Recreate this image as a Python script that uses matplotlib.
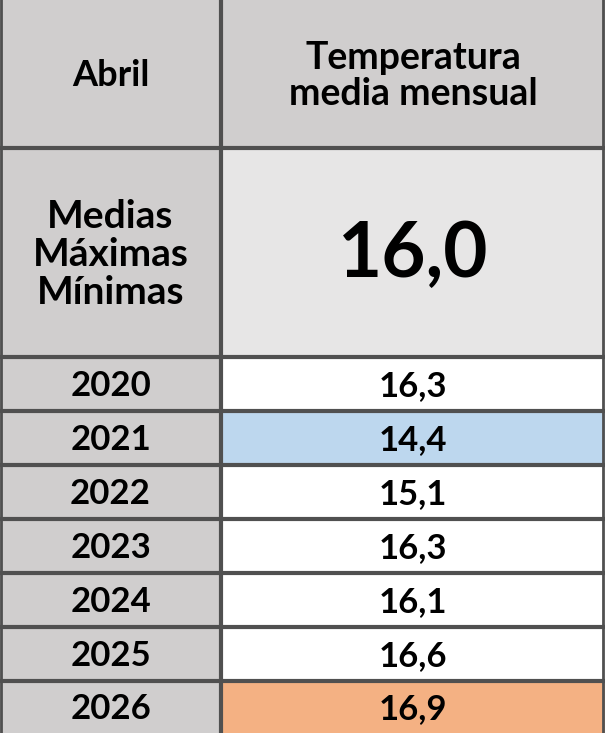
import matplotlib
matplotlib.use('Agg')
import matplotlib.pyplot as plt
from matplotlib.patches import Rectangle

# Datos
header_left = 'Abril'
header_right = 'Temperatura\nmedia mensual'
summary_label = 'Medias\nMáximas\nMínimas'
summary_value = '16,0'
years = ['2020', '2021', '2022', '2023', '2024', '2025', '2026']
temps = [16.3, 14.4, 15.1, 16.3, 16.1, 16.6, 16.9]
highlight = {'2021': '#bdd7ee', '2026': '#f4b183'}

W, H = 605, 733
col_x = [0, 221, 605]
row_y = [0, 148, 357] + [357 + 54 * (i + 1) for i in range(len(years))]
row_y[-1] = H

GREY = '#d0cece'
LIGHT = '#e7e6e6'
LINE = '#505050'
FONT = ['Lato', 'DejaVu Sans']

fig = plt.figure(figsize=(W / 100, H / 100), dpi=100)
ax = fig.add_axes([0, 0, 1, 1])
ax.set_xlim(0, W)
ax.set_ylim(H, 0)
ax.axis('off')


def cell(x0, x1, y0, y1, color, text, size):
    ax.add_patch(Rectangle((x0, y0), x1 - x0, y1 - y0, facecolor=color, edgecolor='none'))
    ax.text((x0 + x1) / 2, (y0 + y1) / 2 + 2, text, ha='center', va='center',
            fontsize=size, fontweight='bold', family=FONT, linespacing=1.1)


cell(col_x[0], col_x[1], row_y[0], row_y[1], GREY, header_left, 26)
cell(col_x[1], col_x[2], row_y[0], row_y[1], GREY, header_right, 27)
cell(col_x[0], col_x[1], row_y[1], row_y[2], GREY, summary_label, 28)
cell(col_x[1], col_x[2], row_y[1], row_y[2], LIGHT, summary_value, 55)
for i, (yr, t) in enumerate(zip(years, temps)):
    y0, y1 = row_y[i + 2], row_y[i + 3]
    cell(col_x[0], col_x[1], y0, y1, GREY, yr, 25)
    cell(col_x[1], col_x[2], y0, y1, highlight.get(yr, 'white'),
         f'{t:.1f}'.replace('.', ','), 25)

for y in row_y[1:-1]:
    ax.plot([0, W], [y, y], color=LINE, lw=3, solid_capstyle='butt')
ax.plot([col_x[1], col_x[1]], [0, H], color=LINE, lw=3, solid_capstyle='butt')
ax.plot([1, 1], [0, H], color=LINE, lw=2)
ax.plot([W - 2, W - 2], [0, H], color=LINE, lw=2)

fig.savefig('out.png', dpi=100)
